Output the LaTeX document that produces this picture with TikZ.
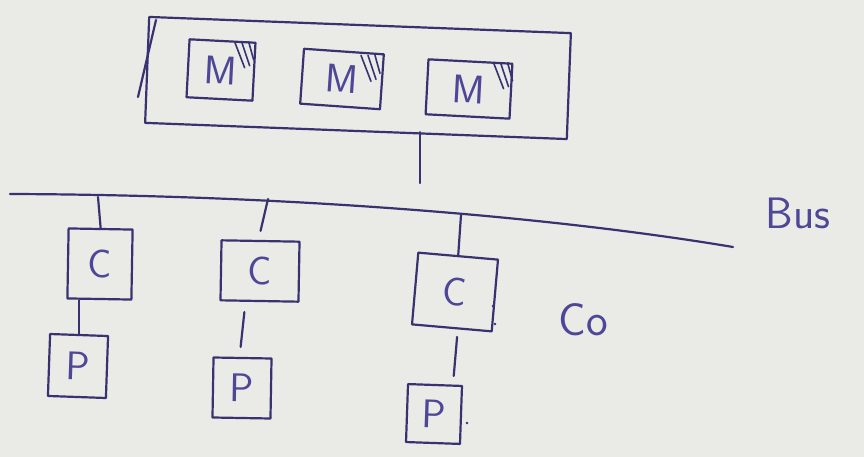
\documentclass[tikz,border=0pt]{standalone}
\usepackage{fontspec}
\usetikzlibrary{calc}
\definecolor{ink}{RGB}{56,50,112}
\definecolor{pen}{RGB}{78,70,150}
\definecolor{paper}{RGB}{234,234,231}
\begin{document}
\begin{tikzpicture}[x=1pt,y=-1pt,
  sk/.style={draw=ink, line width=2.2pt, line cap=round, line join=round},
  hand/.style={text=pen, font=\fontsize{#1}{#1}\selectfont\sffamily},
  unitbox/.style n args={3}{sk, inner sep=0pt, minimum width=#1, minimum height=#2,
    rotate=#3, text=pen, font=\fontsize{40}{40}\selectfont\sffamily},
  hatch/.style={draw=ink, line width=1.6pt, line cap=round}]

% sheet
\fill[paper] (0,0) rectangle (864,457);
\useasboundingbox (0,0) rectangle (864,457);

% memory rack with three modules
\node[sk, minimum width=422, minimum height=106, rotate=-2.2] (mem) at (358,78) {};
\draw[sk] (138,97) -- (156,20);
\node[unitbox={66}{58}{-3}] (m1) at (221,70) {M};
\node[unitbox={80}{55}{-4}] (m2) at (342,79) {M};
\node[unitbox={84}{55}{-3}] (m3) at (469,89) {M};

% shading strokes in the module corners
\foreach \m/\a/\b in {m1/-22/0, m2/-24/2, m3/-20/0}{
  \draw[hatch] ($(\m.north east)+(\a,\b)$) -- +(10,26);
  \draw[hatch] ($(\m.north east)+(\a+7,\b)$) -- +(8,24);
  \draw[hatch] ($(\m.north east)+(\a+14,\b)$) -- +(5,18);
}

% system bus
\draw[sk] (10,194) .. controls (300,195) and (560,218) .. (733,247);
\node[hand=44] (bus) at (798,213) {Bus};

% bus taps
\coordinate (tm) at (420,183);
\coordinate (t1) at (98,197);
\coordinate (t2) at (268,199);
\coordinate (t3) at (461,215);

% controllers
\node[unitbox={64}{70}{-1}] (c1) at (100,264) {C};
\node[unitbox={78}{60}{-1}] (c2) at (260,271) {C};
\node[unitbox={80}{72}{-5}] (c3) at (455,292) {C};
\node[hand=46] (co) at (583,320) {Co};

% processors
\node[unitbox={58}{62}{-2}] (p1) at (78,366) {P};
\node[unitbox={58}{60}{-1}] (p2) at (242,388) {P};
\node[unitbox={54}{58}{-2}] (p3) at (434,414) {P};

% links
\draw[sk] (tm |- mem.south) -- (tm);
\draw[sk] (t1) -- (c1.north);
\draw[sk] (t2) -- ([yshift=9]c2.north);
\draw[sk] (t3) -- (c3.north);
\draw[sk] (p1.north |- c1.south) -- (p1.north);
\draw[sk, shorten <=10pt, shorten >=10pt] ([xshift=-14]c2.south) -- ([xshift=-3]p2.north);
\draw[sk, shorten <=8pt, shorten >=8pt] ([xshift=6]c3.south) -- ([xshift=18]p3.north);

% stray pen dots
\fill[ink] (493,306) circle (1.4);
\fill[ink] (495,324) circle (1.4);
\fill[ink] (467,423) circle (1.4);
\end{tikzpicture}
\end{document}
